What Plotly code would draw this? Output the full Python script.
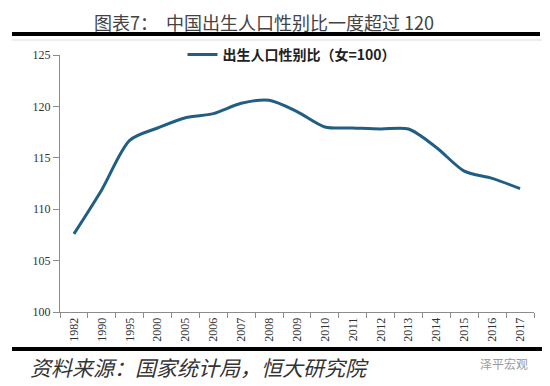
import plotly.graph_objects as go

years = ["1982", "1990", "1995", "2000", "2005", "2006", "2007", "2008", "2009",
         "2010", "2011", "2012", "2013", "2014", "2015", "2016", "2017"]
ratio = [107.6, 111.9, 116.7, 117.9, 118.9, 119.3, 120.3, 120.6, 119.5,
         118.0, 117.9, 117.8, 117.8, 116.0, 113.7, 113.0, 112.0]
y_ticks = [100, 105, 110, 115, 120, 125]

title_text = "图表7：  中国出生人口性别比一度超过 120"
series_name = "出生人口性别比（女=100）"
source_text = "资料来源：国家统计局，恒大研究院"
watermark = "泽平宏观"

# page is offset by the default 8px body margin; figure fills the rest
OFF = 8
W, H = 550 - OFF, 386 - OFF
ml, mr, mt, mb = 60 - OFF, 16, 55 - OFF, 386 - 312
pw, ph = W - ml - mr, H - mt - mb

def px_x(px):
    return (px - OFF - ml) / pw

def px_y(py):
    return (H - mb - (py - OFF)) / ph

fig = go.Figure()
fig.add_trace(go.Scatter(
    x=years, y=ratio, mode="lines", name=series_name,
    line=dict(color="#215E83", width=3, shape="spline", smoothing=0.8),
))

fig.update_layout(
    width=W, height=H,
    margin=dict(l=ml, r=mr, t=mt, b=mb, autoexpand=False),
    paper_bgcolor="white", plot_bgcolor="white",
    showlegend=True,
    legend=dict(
        x=px_x(292), y=px_y(55), xanchor="center", yanchor="middle",
        orientation="h", bgcolor="rgba(0,0,0,0)",
        font=dict(family="Noto Sans CJK SC", size=14, color="#222", weight="bold"),
        itemwidth=30,
    ),
    font=dict(family="Liberation Serif", size=12, color="#333"),
)

fig.update_xaxes(
    type="category", range=[-0.5, len(years) - 0.5],
    showline=True, linecolor="#8c8c8c", linewidth=1,
    ticks="outside", tickson="boundaries", ticklen=5, tickcolor="#8c8c8c",
    tickangle=-90, showgrid=False, zeroline=False, automargin=False,
    tickfont=dict(family="Liberation Serif", size=12, color="#333"),
)
fig.update_yaxes(
    range=[100, 125], tickvals=y_ticks,
    showline=True, linecolor="#8c8c8c", linewidth=1,
    ticks="outside", ticklen=6, tickcolor="#8c8c8c",
    showgrid=False, zeroline=False, automargin=False,
    tickfont=dict(family="Liberation Serif", size=12, color="#333"),
)

# Title
fig.add_annotation(
    text=title_text, xref="paper", yref="paper",
    x=px_x(264), y=px_y(OFF), xanchor="center", yanchor="top",
    showarrow=False, borderpad=0,
    font=dict(family="Noto Sans CJK SC", size=18, color="#444"),
)
# Source
fig.add_annotation(
    text=source_text, xref="paper", yref="paper",
    x=px_x(28), y=px_y(367), xanchor="left", yanchor="middle",
    showarrow=False,
    font=dict(family="Noto Sans CJK SC", size=21, color="#333", style="italic"),
)
# Watermark
fig.add_annotation(
    text=watermark, xref="paper", yref="paper",
    x=px_x(530), y=px_y(363), xanchor="right", yanchor="middle",
    showarrow=False,
    font=dict(family="Noto Sans CJK SC", size=12, color="#9a9a9a"),
)

# Thick black rules
fig.add_shape(type="line", xref="paper", yref="paper",
              x0=px_x(12), x1=px_x(540), y0=px_y(34), y1=px_y(34),
              line=dict(color="black", width=4))
fig.add_shape(type="line", xref="paper", yref="paper",
              x0=px_x(12), x1=px_x(546), y0=px_y(349), y1=px_y(349),
              line=dict(color="black", width=4))
fig.add_shape(type="line", xref="paper", yref="paper",
              x0=px_x(12), x1=px_x(546), y0=px_y(40), y1=px_y(40),
              line=dict(color="#dddddd", width=1))

fig.write_html("out.html")
